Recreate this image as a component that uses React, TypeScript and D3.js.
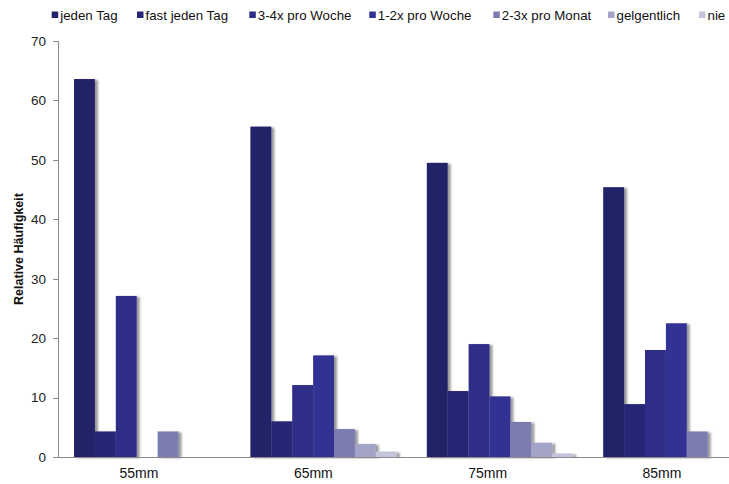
import React from "react";
import * as d3 from "d3";

const categories = ["55mm", "65mm", "75mm", "85mm"];
const seriesNames = [
  "jeden Tag",
  "fast jeden Tag",
  "3-4x pro Woche",
  "1-2x pro Woche",
  "2-3x pro Monat",
  "gelgentlich",
  "nie",
];
const jedenTag = [63.6, 55.6, 49.5, 45.4];
const fastJedenTag = [4.3, 6.0, 11.1, 8.9];
const dreiVierProWoche = [27.1, 12.1, 19.0, 18.0];
const einsZweiProWoche = [0, 17.1, 10.2, 22.5];
const zweiDreiProMonat = [4.3, 4.7, 5.9, 4.3];
const gelgentlich = [0, 2.2, 2.4, 0];
const nie = [0, 0.9, 0.6, 0];
const yTicks = [0, 10, 20, 30, 40, 50, 60, 70];

const seriesValues = [
  jedenTag,
  fastJedenTag,
  dreiVierProWoche,
  einsZweiProWoche,
  zweiDreiProMonat,
  gelgentlich,
  nie,
];
const colors = ["#222268", "#262677", "#2d2d87", "#333395", "#7c7cb1", "#a4a4c9", "#c4c4dc"];

const W = 729;
const H = 484;
const FONT = "'Liberation Sans', Arial, sans-serif";

export default function App() {
  const y = d3.scaleLinear().domain([0, 70]).range([457, 41]);
  const x0 = d3.scaleBand<string>().domain(categories).range([74, 749.5]).paddingInner(0.1706).paddingOuter(0);
  const x1 = d3.scaleBand<string>().domain(seriesNames).range([0, x0.bandwidth()]).padding(0);
  const xLabel = d3.scalePoint<string>().domain(categories).range([139, 662]);

  const legendX = [51.7, 137, 249.3, 369.3, 493.3, 608, 699];

  return (
    <svg width={W} height={H} style={{ position: "absolute", left: 0, top: 0, background: "#fff" }} fontFamily={FONT}>
      <defs>
        <filter id="shadow" x="-20%" y="-5%" width="160%" height="115%">
          <feDropShadow dx="3" dy="1" stdDeviation="1.3" floodColor="#000" floodOpacity="0.4" />
        </filter>
      </defs>
      <rect x={0} y={0} width={W} height={H} fill="#fff" />

      {/* Legend */}
      {seriesNames.map((s, i) => (
        <g key={s} transform={`translate(${legendX[i]},0)`}>
          <rect x={0} y={11.5} width={6.5} height={6.5} fill={colors[i]} />
          <text x={8.5} y={19.5} fontSize={13.3} fill="#111">{s}</text>
        </g>
      ))}

      {/* Y axis */}
      <line x1={58.5} x2={58.5} y1={y(70)} y2={y(0)} stroke="#8a8a8a" strokeWidth={1} />
      {yTicks.map((t) => (
        <g key={t}>
          <line x1={53} x2={58.5} y1={Math.round(y(t)) + 0.5} y2={Math.round(y(t)) + 0.5} stroke="#8a8a8a" />
          <text x={46} y={y(t) + 4.8} fontSize={13.5} textAnchor="end" fill="#222">{t}</text>
        </g>
      ))}
      <text
        transform={`translate(23,${(y(0) + y(70)) / 2}) rotate(-90)`}
        textAnchor="middle"
        fontSize={12.5}
        fontWeight="bold"
        fill="#111"
      >
        Relative Häufigkeit
      </text>

      {/* Bars */}
      {categories.map((c, ci) => (
        <g key={c} transform={`translate(${x0(c)},0)`}>
          {seriesNames.map((s, si) => {
            const v = seriesValues[si][ci];
            if (!v) return null;
            return (
              <rect
                key={s}
                x={x1(s)}
                y={y(v)}
                width={x1.bandwidth()}
                height={y(0) - y(v)}
                fill={colors[si]}
                filter="url(#shadow)"
              />
            );
          })}
        </g>
      ))}

      {/* X axis */}
      <line x1={58} x2={W} y1={457.5} y2={457.5} stroke="#8a8a8a" strokeWidth={1} />
      {categories.map((c) => (
        <text key={c} x={xLabel(c)} y={478} fontSize={14} textAnchor="middle" fill="#111">{c}</text>
      ))}
    </svg>
  );
}
